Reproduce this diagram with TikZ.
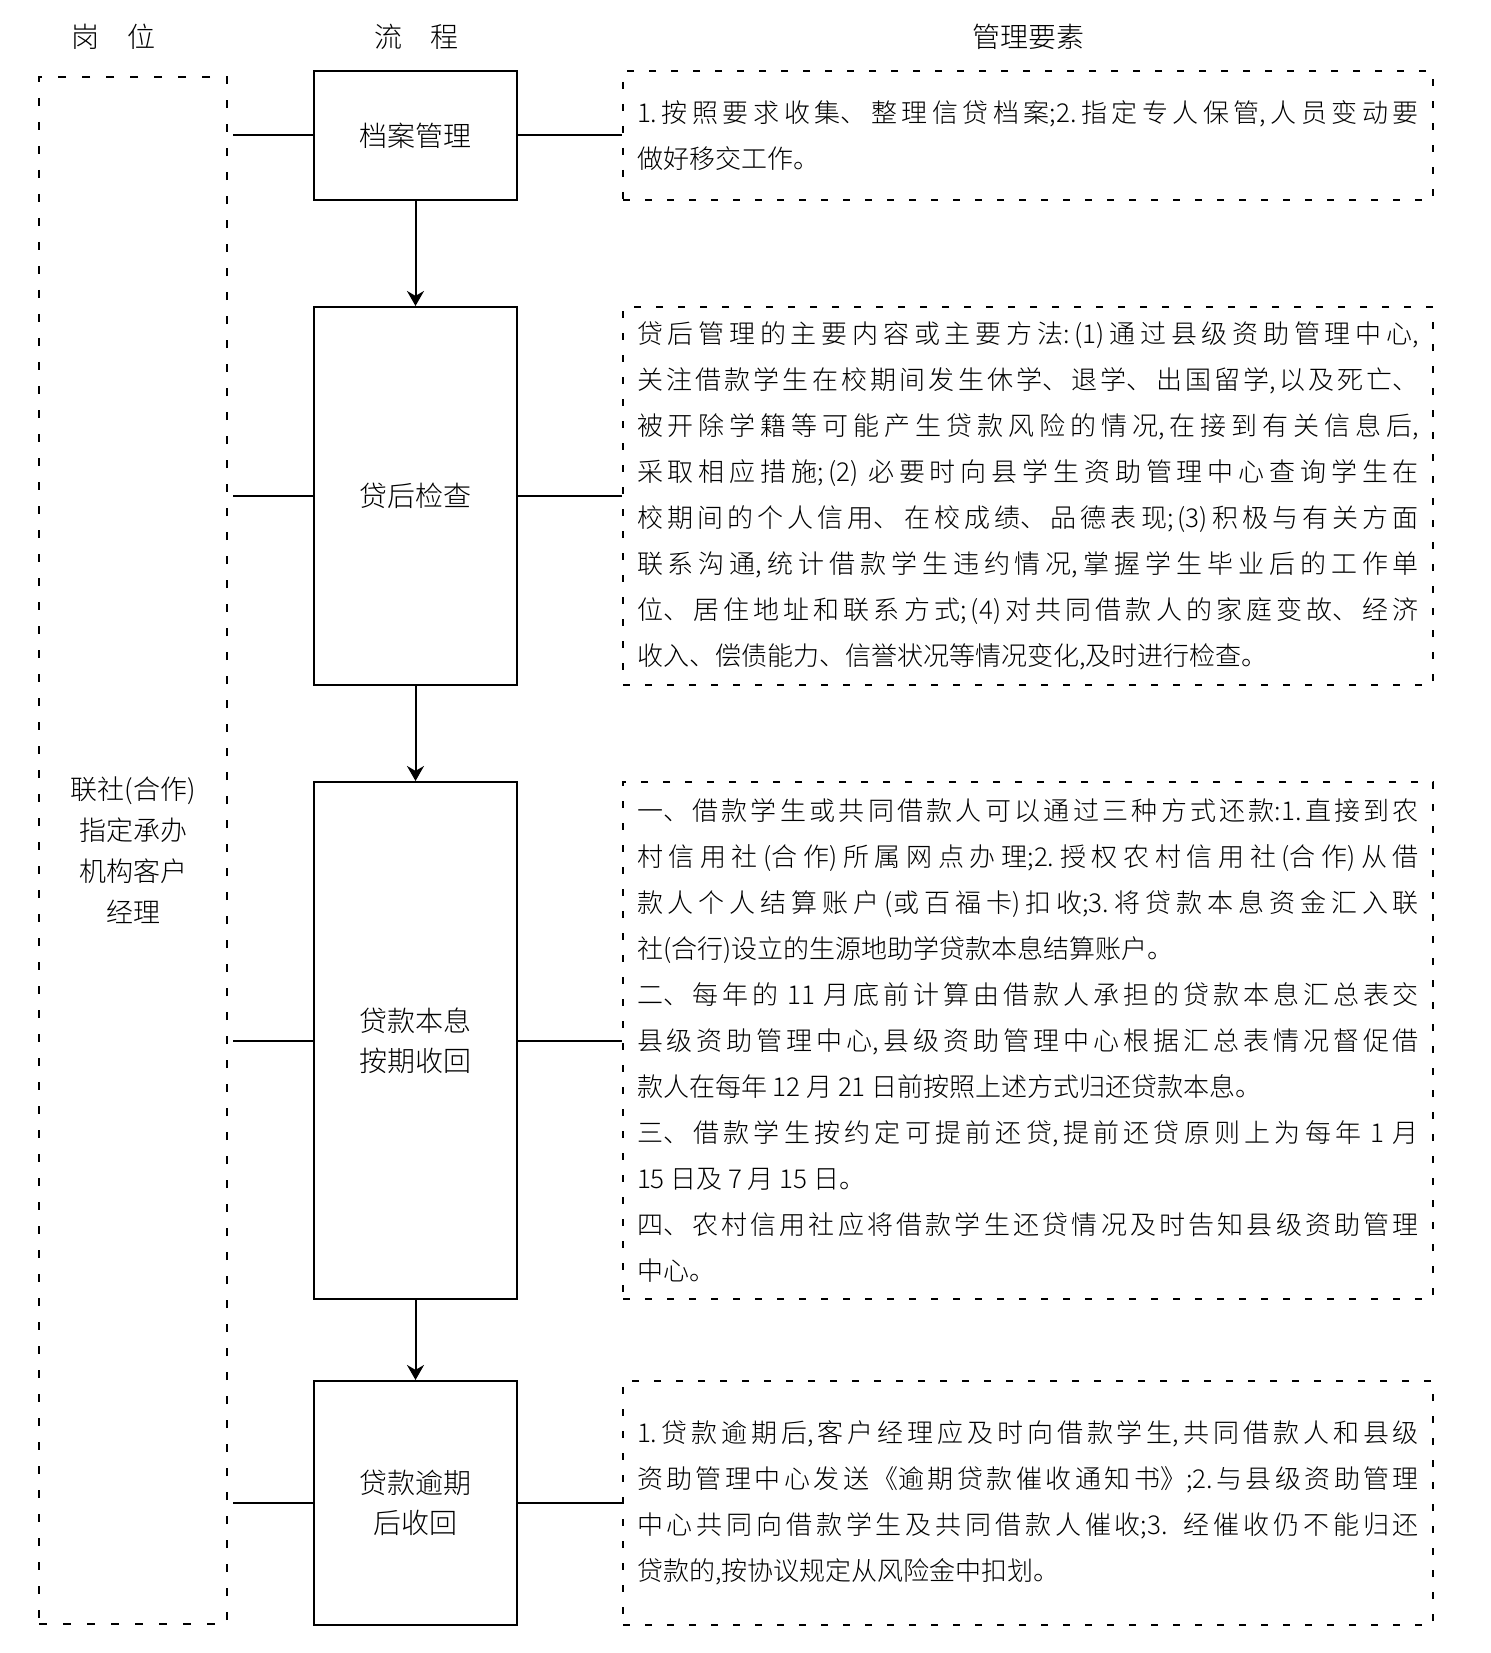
\documentclass[tikz,border=0pt]{standalone}
\usepackage{fontspec}
\setmainfont{Noto Sans CJK SC}[UprightFont=* Light, BoldFont=Noto Sans CJK SC]
\usepackage{tikz}
\usetikzlibrary{arrows.meta}
\XeTeXlinebreaklocale "zh"
\XeTeXlinebreakskip=0pt plus 2pt
\tolerance=10000

\begin{document}
\begin{tikzpicture}[x=0.5pt, y=-0.5pt,
    head_label/.style={font=\fontsize{14pt}{20pt}\selectfont},
    post_box/.style={draw, line width=1pt, dash pattern=on 4pt off 8pt,
      minimum width=94pt, minimum height=773.5pt, inner sep=0pt, align=center,
      font=\fontsize{13.5pt}{20.5pt}\selectfont},
    flow_box/.style={draw, line width=1pt, minimum width=101.5pt, inner sep=0pt,
      align=center, font=\fontsize{14pt}{20pt}\selectfont},
    note_box/.style={draw, line width=1pt, dash pattern=on 3.5pt off 7.5pt,
      minimum width=405pt, text width=391pt, inner xsep=7pt, inner ysep=2pt,
      align=justify, font=\fontsize{13pt}{23pt}\selectfont},
    link/.style={line width=1pt},
    >={Stealth[length=7.5pt, width=8.5pt]}
  ]
  \useasboundingbox (0,0) rectangle (1491,1653);

  % --- Column heads ---
  \node[head_label] (H1) at (113,37) {岗\quad 位};
  \node[head_label] (H2) at (416,37) {流\quad 程};
  \node[head_label] (H3) at (1028,37) {管理要素};

  % --- Post ---
  \node[post_box] (P) at (133,850.5) {联社(合作)\\指定承办\\机构客户\\经理};

  % --- Flow boxes ---
  \node[flow_box, minimum height=64.5pt] (F1) at (415.5,135.5) {档案管理};
  \node[flow_box, minimum height=189pt] (F2) at (415.5,496) {贷后检查};
  \node[flow_box, minimum height=258.5pt] (F3) at (415.5,1040.5) {贷款本息\\按期收回};
  \node[flow_box, minimum height=122pt] (F4) at (415.5,1503) {贷款逾期\\后收回};

  % --- Management notes ---
  \node[note_box, minimum height=64.5pt] (N1) at (1028,135.5) {%
    1.按照要求收集、整理信贷档案;2.指定专人保管,人员变动要\linebreak
    做好移交工作。};
  \node[note_box, minimum height=189pt] (N2) at (1028,496) {%
    贷后管理的主要内容或主要方法:(1)通过县级资助管理中心,\linebreak
    关注借款学生在校期间发生休学、退学、出国留学,以及死亡、\linebreak
    被开除学籍等可能产生贷款风险的情况,在接到有关信息后,\linebreak
    采取相应措施;(2) 必要时向县学生资助管理中心查询学生在\linebreak
    校期间的个人信用、在校成绩、品德表现;(3)积极与有关方面\linebreak
    联系沟通,统计借款学生违约情况,掌握学生毕业后的工作单\linebreak
    位、居住地址和联系方式;(4)对共同借款人的家庭变故、经济\linebreak
    收入、偿债能力、信誉状况等情况变化,及时进行检查。};
  \node[note_box, minimum height=258.5pt] (N3) at (1028,1040.5) {%
    一、借款学生或共同借款人可以通过三种方式还款:1.直接到农\linebreak
    村信用社(合作)所属网点办理;2.授权农村信用社(合作)从借\linebreak
    款人个人结算账户(或百福卡)扣收;3.将贷款本息资金汇入联\linebreak
    社(合行)设立的生源地助学贷款本息结算账户。\par
    二、每年的 11 月底前计算由借款人承担的贷款本息汇总表交\linebreak
    县级资助管理中心,县级资助管理中心根据汇总表情况督促借\linebreak
    款人在每年 12 月 21 日前按照上述方式归还贷款本息。\par
    三、借款学生按约定可提前还贷,提前还贷原则上为每年 1 月\linebreak
    15 日及 7 月 15 日。\par
    四、农村信用社应将借款学生还贷情况及时告知县级资助管理\linebreak
    中心。};
  \node[note_box, minimum height=122pt] (N4) at (1028,1503) {%
    1.贷款逾期后,客户经理应及时向借款学生,共同借款人和县级\linebreak
    资助管理中心发送《逾期贷款催收通知书》;2.与县级资助管理\linebreak
    中心共同向借款学生及共同借款人催收;3. 经催收仍不能归还\linebreak
    贷款的,按协议规定从风险金中扣划。};

  % --- Flow arrows ---
  \draw[link, ->] (F1) -- (F2);
  \draw[link, ->] (F2) -- (F3);
  \draw[link, ->] (F3) -- (F4);

  % --- Post links ---
  \draw[link, shorten <=2.5pt] (P.east |- F1) -- (F1.west);
  \draw[link, shorten <=2.5pt] (P.east |- F2) -- (F2.west);
  \draw[link, shorten <=2.5pt] (P.east |- F3) -- (F3.west);
  \draw[link, shorten <=2.5pt] (P.east |- F4) -- (F4.west);

  % --- Note links ---
  \draw[link] (F1) -- (N1);
  \draw[link] (F2) -- (N2);
  \draw[link] (F3) -- (N3);
  \draw[link] (F4) -- (N4);
\end{tikzpicture}
\end{document}
